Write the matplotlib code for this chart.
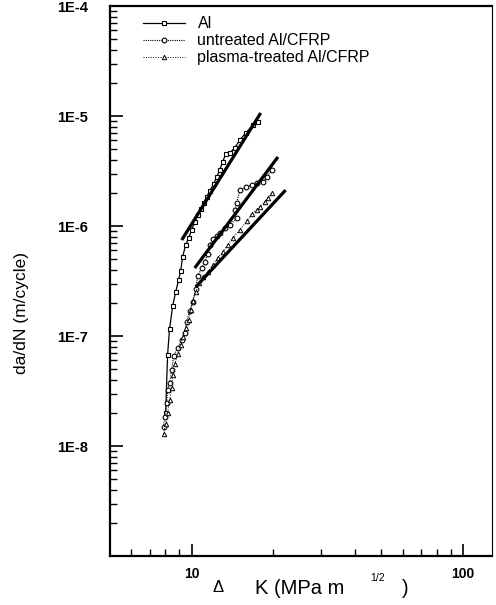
import numpy as np
import matplotlib
matplotlib.use('Agg')
import matplotlib.pyplot as plt
from matplotlib.ticker import FixedLocator, NullFormatter

plt.rcParams['font.family'] = ['Liberation Sans', 'DejaVu Sans']

# data: delta K (MPa m^1/2), da/dN (m/cycle)
al_k = [8.02, 8.15, 8.29, 8.51, 8.73, 8.95, 9.11, 9.26, 9.50, 9.75, 10.0, 10.26,
        10.52, 10.80, 11.07, 11.36, 11.65, 12.05, 12.37, 12.69, 13.01, 13.35, 13.81,
        14.41, 15.04, 15.82, 16.80, 17.52]
al_v = [2.0e-8, 6.72e-8, 1.16e-7, 1.87e-7, 2.51e-7, 3.23e-7, 3.90e-7, 5.23e-7, 6.71e-7,
        7.78e-7, 9.20e-7, 1.09e-6, 1.26e-6, 1.43e-6, 1.62e-6, 1.84e-6, 2.08e-6, 2.41e-6,
        2.79e-6, 3.23e-6, 3.82e-6, 4.52e-6, 4.61e-6, 5.12e-6, 6.05e-6, 7.0e-6, 8.28e-6,
        8.81e-6]

un_k = [7.88, 7.95, 8.09, 8.15, 8.29, 8.44, 8.58, 8.88, 9.19, 9.42, 9.58, 9.83, 10.09,
        10.35, 10.52, 10.89, 11.17, 11.46, 11.65, 11.96, 12.37, 12.69, 13.24, 13.81,
        14.66, 14.41, 14.66, 15.04, 15.82, 16.65, 17.37, 18.28, 18.91, 19.73]
un_v = [1.49e-8, 1.84e-8, 2.46e-8, 3.23e-8, 3.74e-8, 4.91e-8, 6.58e-8, 7.78e-8, 9.20e-8,
        1.06e-7, 1.34e-7, 1.69e-7, 2.04e-7, 2.68e-7, 3.51e-7, 4.15e-7, 4.71e-7, 5.56e-7,
        6.71e-7, 7.62e-7, 8.11e-7, 8.63e-7, 9.60e-7, 1.02e-6, 1.18e-6, 1.40e-6, 1.62e-6,
        2.12e-6, 2.26e-6, 2.36e-6, 2.46e-6, 2.51e-6, 2.79e-6, 3.23e-6]

pl_k = [7.88, 8.02, 8.15, 8.29, 8.44, 8.51, 8.66, 8.88, 9.11, 9.26, 9.50, 9.75, 9.92,
        10.09, 10.35, 10.61, 10.98, 11.46, 11.96, 12.47, 13.01, 13.58, 14.17, 15.04,
        15.96, 16.65, 17.37, 17.82, 18.59, 19.07, 19.73]
pl_v = [1.29e-8, 1.58e-8, 2.0e-8, 2.62e-8, 3.37e-8, 4.42e-8, 5.56e-8, 6.86e-8, 8.28e-8,
        9.80e-8, 1.18e-7, 1.40e-7, 1.72e-7, 2.08e-7, 2.51e-7, 3.03e-7, 3.44e-7, 3.82e-7,
        4.42e-7, 5.12e-7, 5.80e-7, 6.71e-7, 7.78e-7, 9.20e-7, 1.11e-6, 1.29e-6, 1.40e-6,
        1.49e-6, 1.65e-6, 1.80e-6, 2.0e-6]

# straight (Paris law) fits
al_fit_k = [9.19, 17.97]
al_fit_v = [7.46e-7, 1.065e-5]
un_fit_k = [10.26, 20.8]
un_fit_v = [4.15e-7, 4.24e-6]
pl_fit_k = [10.35, 22.2]
pl_fit_v = [2.79e-7, 2.12e-6]

labels = ['Al', 'untreated Al/CFRP', 'plasma-treated Al/CFRP']
ytick_vals = [1e-8, 1e-7, 1e-6, 1e-5, 1e-4]
ytick_labels = ['1E-8', '1E-7', '1E-6', '1E-5', '1E-4']
xtick_vals = [10, 100]
xtick_labels = ['10', '100']
xminor = [6, 7, 8, 9, 20, 30, 40, 50, 60, 70, 80, 90]

fig = plt.figure(figsize=(4.96, 6.05), dpi=100)
ax = fig.add_axes([110/496, 49/605, 382/496, 550/605])
ax.set_xscale('log')
ax.set_yscale('log')

ax.plot(al_k, al_v, '-', color='k', lw=0.9, marker='s', ms=3.4,
        mfc='white', mec='k', mew=0.8, label=labels[0])
ax.plot(un_k, un_v, color='k', ls=(0, (1, 1)), lw=0.8, marker='o', ms=3.4,
        mfc='white', mec='k', mew=0.8, label=labels[1])
ax.plot(pl_k, pl_v, color='k', ls=(0, (1, 1.5)), lw=0.7, marker='^', ms=3.2,
        mfc='white', mec='k', mew=0.7, label=labels[2])

for fk, fv in [(al_fit_k, al_fit_v), (un_fit_k, un_fit_v), (pl_fit_k, pl_fit_v)]:
    ax.plot(fk, fv, '-', color='k', lw=2.3, solid_capstyle='butt')

ax.set_xlim(5, 128)
ax.set_ylim(1e-9, 1e-4)

ax.xaxis.set_major_locator(FixedLocator(xtick_vals))
ax.set_xticklabels(xtick_labels)
ax.xaxis.set_minor_locator(FixedLocator(xminor))
ax.xaxis.set_minor_formatter(NullFormatter())
ax.yaxis.set_major_locator(FixedLocator(ytick_vals))
ax.set_yticklabels(ytick_labels)
yminor = [m * 10.0 ** e for e in range(-9, -4) for m in range(2, 10)]
ax.yaxis.set_minor_locator(FixedLocator(yminor))
ax.yaxis.set_minor_formatter(NullFormatter())

ax.tick_params(which='major', direction='in', length=9, width=1.2)
ax.tick_params(which='minor', direction='in', length=5, width=1.0)
ax.tick_params(axis='y', which='both', right=False, labelsize=10.5, pad=16)
ax.tick_params(axis='x', which='both', top=False, labelsize=10, pad=8)
for lab in ax.get_xticklabels() + ax.get_yticklabels():
    lab.set_fontweight('bold')

ax.spines['left'].set_linewidth(1.6)
ax.spines['bottom'].set_linewidth(1.6)
ax.spines['top'].set_linewidth(1.6)
ax.spines['right'].set_linewidth(0.8)

ax.legend(loc='upper left', bbox_to_anchor=(0.0785, 0.987), frameon=False,
          fontsize=11.5, handlelength=2.6, handletextpad=0.8, labelspacing=0.12,
          borderpad=0.2, borderaxespad=0)

fig.text(22/496, 1 - 313/605, 'da/dN (m/cycle)', rotation=90, ha='center',
         va='center', fontsize=12.5)
fig.text(218/496, 1 - 588/605, '\u0394', ha='center', va='center', fontsize=12)
fig.text(255/496, 1 - 588/605, 'K (MPa m', ha='left', va='center', fontsize=14.5)
fig.text(378/496, 1 - 578/605, '1/2', ha='center', va='center', fontsize=7.5)
fig.text(405/496, 1 - 588/605, ')', ha='center', va='center', fontsize=14.5)

fig.savefig('out.png', dpi=100)
